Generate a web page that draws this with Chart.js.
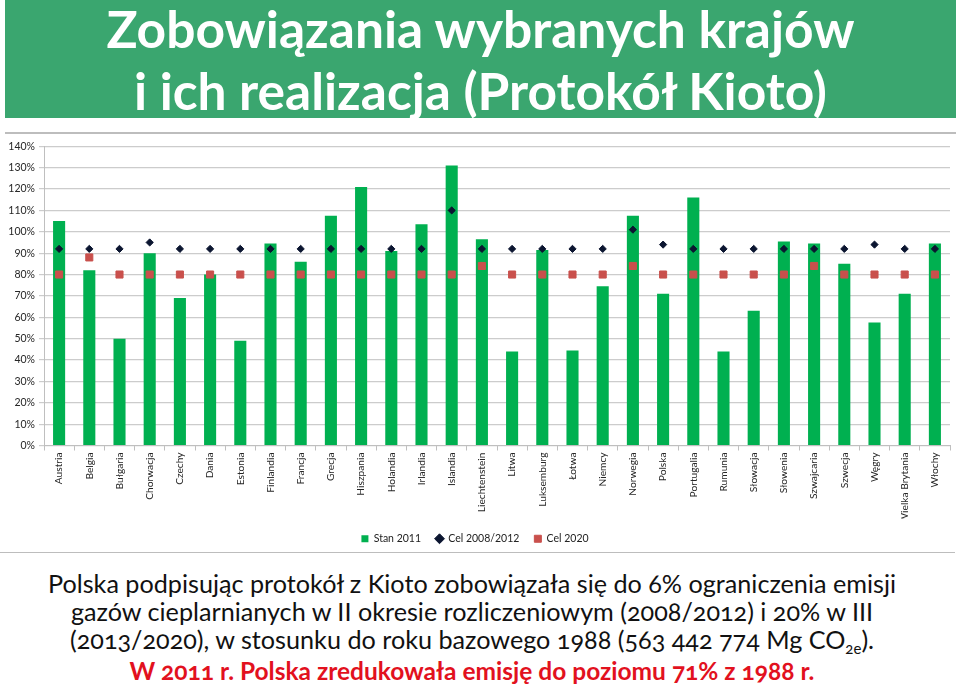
<!DOCTYPE html>
<html lang="pl">
<head>
<meta charset="utf-8">
<script src="https://cdn.jsdelivr.net/npm/chart.js@4.4.1/dist/chart.umd.min.js"></script>
<style>
  html, body { margin: 0; padding: 0; background: #fff; }
  body { width: 960px; height: 696px; position: relative; overflow: hidden; font-family: Lato, "Open Sans", sans-serif; }
  #header { position: absolute; left: 5px; top: 0; width: 951px; height: 118px; background: #3AA66F; color: #fff;
            font-family: Lato, sans-serif; font-weight: 700; font-size: 51.5px; line-height: 62px; text-align: center; }
  #header .t { position: relative; top: -3px; }
  #header .t div { white-space: nowrap; }
  .rule { position: absolute; background: #BDBDBD; }
  #chartBox { position: absolute; left: 0; top: 136px; width: 960px; height: 420px; }
  #text { position: absolute; left: 0; top: 569px; width: 944px; text-align: center; font-size: 25.2px; line-height: 28px;
          color: #111; white-space: nowrap; font-variant-numeric: oldstyle-nums; }
  #text .red { color: #E2111E; font-weight: 700; font-size: 24.5px; line-height: 36px; }
  sub { font-size: 15px; line-height: 0; vertical-align: -5px; }
</style>
</head>
<body>
<div id="header"><div class="t"><div>Zobowiązania wybranych krajów</div><div>i ich realizacja (Protokół Kioto)</div></div></div>
<div class="rule" style="left:5px; top:132px; width:951px; height:2px;"></div>
<div id="chartBox"><canvas id="c" width="960" height="420"></canvas></div>
<div class="rule" style="left:0; top:552px; width:955px; height:1px;"></div>
<div id="text">
  <div>Polska podpisując protokół z Kioto zobowiązała się do 6% ograniczenia emisji</div>
  <div>gazów cieplarnianych w II okresie rozliczeniowym (2008/2012) i 20% w III</div>
  <div>(2013/2020), w stosunku do roku bazowego 1988 (563 442 774 Mg CO<sub>2e</sub>).</div>
  <div class="red">W 2011 r. Polska zredukowała emisję do poziomu 71% z 1988 r.</div>
</div>
<script>
const categories = ['Austria','Belgia','Bułgaria','Chorwacja','Czechy','Dania','Estonia','Finlandia','Francja','Grecja',
  'Hiszpania','Holandia','Irlandia','Islandia','Liechtenstein','Litwa','Luksemburg','Łotwa','Niemcy','Norwegia',
  'Polska','Portugalia','Rumunia','Słowacja','Słowenia','Szwajcaria','Szwecja','Węgry','Wielka Brytania','Włochy'];
const seriesNames = ['Stan 2011', 'Cel 2008/2012', 'Cel 2020'];
const stan2011 = [105, 82, 50, 90, 69, 80, 49, 94.5, 86, 107.5,
  121, 91, 103.5, 131, 96.5, 44, 91.5, 44.5, 74.5, 107.5,
  71, 116, 44, 63, 95.5, 94.5, 85, 57.5, 71, 94.5];
const cel2012 = [92, 92, 92, 95, 92, 92, 92, 92, 92, 92,
  92, 92, 92, 110, 92, 92, 92, 92, 92, 101,
  94, 92, 92, 92, 92, 92, 92, 94, 92, 92];
const cel2020 = [80, 88, 80, 80, 80, 80, 80, 80, 80, 80,
  80, 80, 80, 80, 84, 80, 80, 80, 80, 84,
  80, 80, 80, 80, 80, 84, 80, 80, 80, 80];
const yTicks = [0, 10, 20, 30, 40, 50, 60, 70, 80, 90, 100, 110, 120, 130, 140];

const tickFont = { family: 'Lato, sans-serif', size: 10.5 };
const xTickFont = { family: 'Lato, sans-serif', size: 10.2 };

new Chart(document.getElementById('c'), {
  data: {
    labels: categories,
    datasets: [
      { type: 'bar', label: seriesNames[0], data: stan2011, backgroundColor: '#00B050', borderWidth: 0,
        barPercentage: 0.4, categoryPercentage: 1, order: 3, pointStyle: 'rect' },
      { type: 'line', label: seriesNames[1], data: cel2012, showLine: false, pointStyle: 'rectRot',
        pointRadius: 3.6, pointBackgroundColor: '#0B1530', pointBorderColor: '#0B1530', backgroundColor: '#0B1530', borderColor: '#0B1530', order: 1 },
      { type: 'line', label: seriesNames[2], data: cel2020, showLine: false, pointStyle: 'rect',
        pointRadius: 5, pointBackgroundColor: '#C9504C', pointBorderColor: '#C9504C', backgroundColor: '#C9504C', borderColor: '#C9504C', order: 2 }
    ]
  },
  options: {
    responsive: false,
    animation: false,
    events: [],
    layout: { padding: { left: 0, right: 10, top: 9, bottom: 2 } },
    plugins: {
      tooltip: { enabled: false },
      legend: {
        position: 'bottom',
        labels: {
          usePointStyle: true, boxWidth: 7, boxHeight: 7, padding: 15,
          font: { family: 'Lato, sans-serif', size: 10.5 }, color: '#222',
          sort: (a, b) => a.datasetIndex - b.datasetIndex
        }
      }
    },
    scales: {
      x: {
        type: 'category',
        offset: true,
        grid: { offset: true, drawOnChartArea: false, drawTicks: true, tickLength: 5, color: '#BFBFBF' },
        border: { color: '#BFBFBF' },
        ticks: { minRotation: 90, maxRotation: 90, autoSkip: false, font: xTickFont, color: '#262626', padding: 2 },
        afterFit: s => { s.height = 73; }
      },
      y: {
        min: 0, max: 140,
        afterBuildTicks: s => { s.ticks = yTicks.map(v => ({ value: v })); },
        grid: { color: '#CCCCCC', tickLength: 5, drawTicks: true, lineWidth: 1.2 },
        border: { color: '#BFBFBF' },
        ticks: { callback: v => v + '%', font: tickFont, color: '#262626', padding: 4 },
        afterFit: s => { s.width = 44; }
      }
    }
  }
});
</script>
</body>
</html>
